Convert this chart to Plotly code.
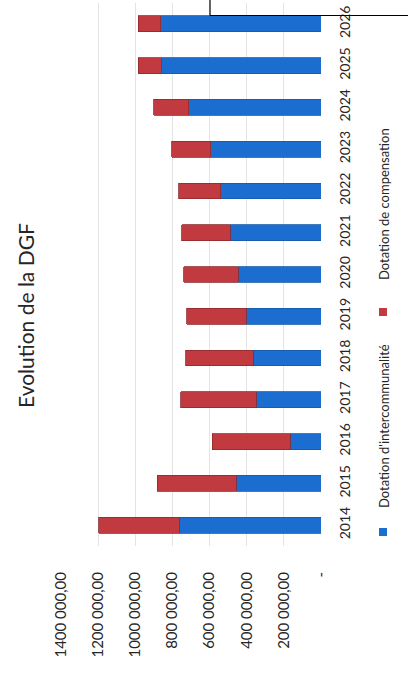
import plotly.graph_objects as go

years = ["2014", "2015", "2016", "2017", "2018", "2019", "2020",
         "2021", "2022", "2023", "2024", "2025", "2026"]
intercommunalite = [763000, 457000, 166000, 349000, 364000, 403000, 445000,
                    489000, 540000, 594000, 711000, 858000, 862000]
compensation = [433000, 425000, 419000, 406000, 364000, 320000, 293000,
                261000, 225000, 210000, 189000, 126000, 122000]
tick_vals = [0, 200000, 400000, 600000, 800000, 1000000, 1200000, 1400000]
tick_text = ["-", "200 000,00", "400 000,00", "600 000,00", "800 000,00",
             "1000 000,00", "1200 000,00", "1400 000,00"]

W, H = 408, 683
ML, MR, MT, MB = 61, 87, 3, 137
PW, PH = W - ML - MR, H - MT - MB

def px(x):
    return (x - ML) / PW

def py(y):
    return (H - MB - y) / PH

BLUE = "#1b6dd0"
RED = "#c13a40"
TXT = "#262626"
FONT = "Lato, 'Open Sans', sans-serif"

fig = go.Figure()
fig.add_trace(go.Bar(y=years, x=intercommunalite, orientation="h",
                     name="Dotation d'intercommunalité",
                     marker=dict(color=BLUE, line=dict(color="#1659a8", width=0.8))))
fig.add_trace(go.Bar(y=years, x=compensation, orientation="h",
                     name="Dotation de compensation",
                     marker=dict(color=RED, line=dict(color="#8e2a2e", width=0.8))))

fig.update_layout(
    width=W, height=H, barmode="stack", bargap=0.62,
    margin=dict(l=ML, r=MR, t=MT, b=MB),
    paper_bgcolor="white", plot_bgcolor="white",
    showlegend=False,
    font=dict(family=FONT, color=TXT),
    xaxis=dict(range=[1400000, 0], tickvals=tick_vals, ticktext=tick_text,
               tickangle=-90, showgrid=True, gridcolor="#e4e4e4", gridwidth=1,
               zeroline=False, showline=False, ticks="",
               tickfont=dict(size=15, color=TXT), ticklabelstandoff=22),
    yaxis=dict(type="category", side="right", tickangle=-90, showgrid=False,
               showline=False, ticks="", tickfont=dict(size=14, color=TXT),
               ticklabelstandoff=14),
)

# title (rotated)
fig.add_annotation(text="Evolution de la DGF", textangle=-90, showarrow=False,
                   xref="paper", yref="paper", x=px(25), y=py(316),
                   xanchor="center", yanchor="middle",
                   font=dict(size=21, color=TXT, family=FONT))

# legend (rotated)
legend_items = [("Dotation d'intercommunalité", BLUE, 532, 426),
                ("Dotation de compensation", RED, 312, 204)]
for label, col, sq_y, txt_y in legend_items:
    fig.add_shape(type="rect", xref="paper", yref="paper",
                  x0=px(379), x1=px(387), y0=py(sq_y + 4), y1=py(sq_y - 4),
                  fillcolor=col, line=dict(width=0))
    fig.add_annotation(text=label, textangle=-90, showarrow=False,
                       xref="paper", yref="paper", x=px(384), y=py(txt_y),
                       xanchor="center", yanchor="middle",
                       font=dict(size=13, color=TXT, family=FONT))

# scan artifact: corner of a box at the top
fig.add_shape(type="line", xref="paper", yref="paper",
              x0=px(210), x1=px(210), y0=py(-2), y1=py(15.5),
              line=dict(color="black", width=1.2))
fig.add_shape(type="line", xref="paper", yref="paper",
              x0=px(210), x1=px(410), y0=py(15.5), y1=py(15.5),
              line=dict(color="black", width=1.2))

fig.write_html("out.html")
